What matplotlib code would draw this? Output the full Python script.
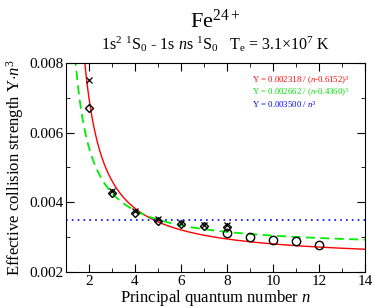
import numpy as np
import matplotlib
matplotlib.use("Agg")
import matplotlib.pyplot as plt
from matplotlib.ticker import MultipleLocator

plt.rcParams["font.family"] = ["Liberation Serif", "DejaVu Serif"]
plt.rcParams["mathtext.fontset"] = "custom"
plt.rcParams["mathtext.rm"] = "Liberation Serif"
plt.rcParams["mathtext.it"] = "Liberation Serif:italic"

# data
n_cross = [2, 3, 4, 5, 6, 7, 8]
y_cross = [0.00752, 0.00432, 0.00374, 0.00351, 0.00342, 0.00334, 0.00336]
n_diam = [2, 3, 4, 5, 6, 7, 8]
y_diam = [0.00670, 0.00428, 0.00370, 0.00346, 0.00339, 0.00331, 0.00330]
n_circ = [8, 9, 10, 11, 12]
y_circ = [0.00311, 0.00300, 0.00293, 0.00288, 0.00278]

# fit coefficients: Y = A / (n - d)^3
red_fit = (0.002318, 0.6152)
green_fit = (0.002662, 0.4360)
blue_level = 0.003500

fig = plt.figure(figsize=(3.74, 3.08), dpi=100)
ax = fig.add_axes([0.1765, 0.117, 0.7995, 0.6785])

n = np.linspace(1.05, 14, 600)
ax.plot(n, red_fit[0] * (n / (n - red_fit[1])) ** 3, color="red", lw=1.0)
ax.plot(n, green_fit[0] * (n / (n - green_fit[1])) ** 3, color="#00ee00",
        lw=1.3, ls=(0, (5, 3)))
ax.axhline(blue_level, color="blue", lw=1.2, ls=(0, (1, 2.5)))

ax.plot(n_cross, y_cross, "x", color="black", ms=4, mew=0.9)
ax.plot(n_diam, y_diam, "D", mfc="none", mec="black", ms=4.5, mew=1.0)
ax.plot(n_circ, y_circ, "o", mfc="none", mec="black", ms=6, mew=1.0)

ax.set_xlim(1, 14)
ax.set_ylim(0.002, 0.008)
ax.xaxis.set_major_locator(MultipleLocator(2))
ax.xaxis.set_minor_locator(MultipleLocator(1))
ax.yaxis.set_major_locator(MultipleLocator(0.002))
ax.yaxis.set_minor_locator(MultipleLocator(0.001))
ax.set_yticklabels([f"{v:.3f}" for v in ax.get_yticks()])
ax.tick_params(which="both", direction="in", top=True, right=True,
               labelsize=11, pad=2)
ax.tick_params(which="major", length=6)
ax.tick_params(which="minor", length=3)

ax.set_xlabel(r"Principal quantum number $n$", fontsize=12, labelpad=0)
ax.set_ylabel(r"Effective collision strength Y$\cdot$$n^3$", fontsize=12,
              labelpad=2)

ax.text(0.622, 0.914, r"Y = 0.002318 / ($n$-0.6152)$^3$", color="red",
        fontsize=6.3, va="center", transform=ax.transAxes)
ax.text(0.622, 0.856, r"Y = 0.002662 / ($n$-0.4360)$^3$", color="#00dd00",
        fontsize=6.3, va="center", transform=ax.transAxes)
ax.text(0.622, 0.800, r"Y = 0.003500 / $n^3$", color="blue",
        fontsize=6.3, va="center", transform=ax.transAxes)

xc = 0.1765 + 0.7995 / 2
fig.text(xc, 0.91, r"Fe$^{24+}$", ha="center", fontsize=16)
fig.text(xc, 0.84,
         r"1s$^2$ $^1$S$_0$ - 1s $n$s $^1$S$_0$   T$_\mathrm{e}$ = 3.1$\times$10$^7$ K",
         ha="center", fontsize=11.5)

fig.savefig("out.png", dpi=100)
